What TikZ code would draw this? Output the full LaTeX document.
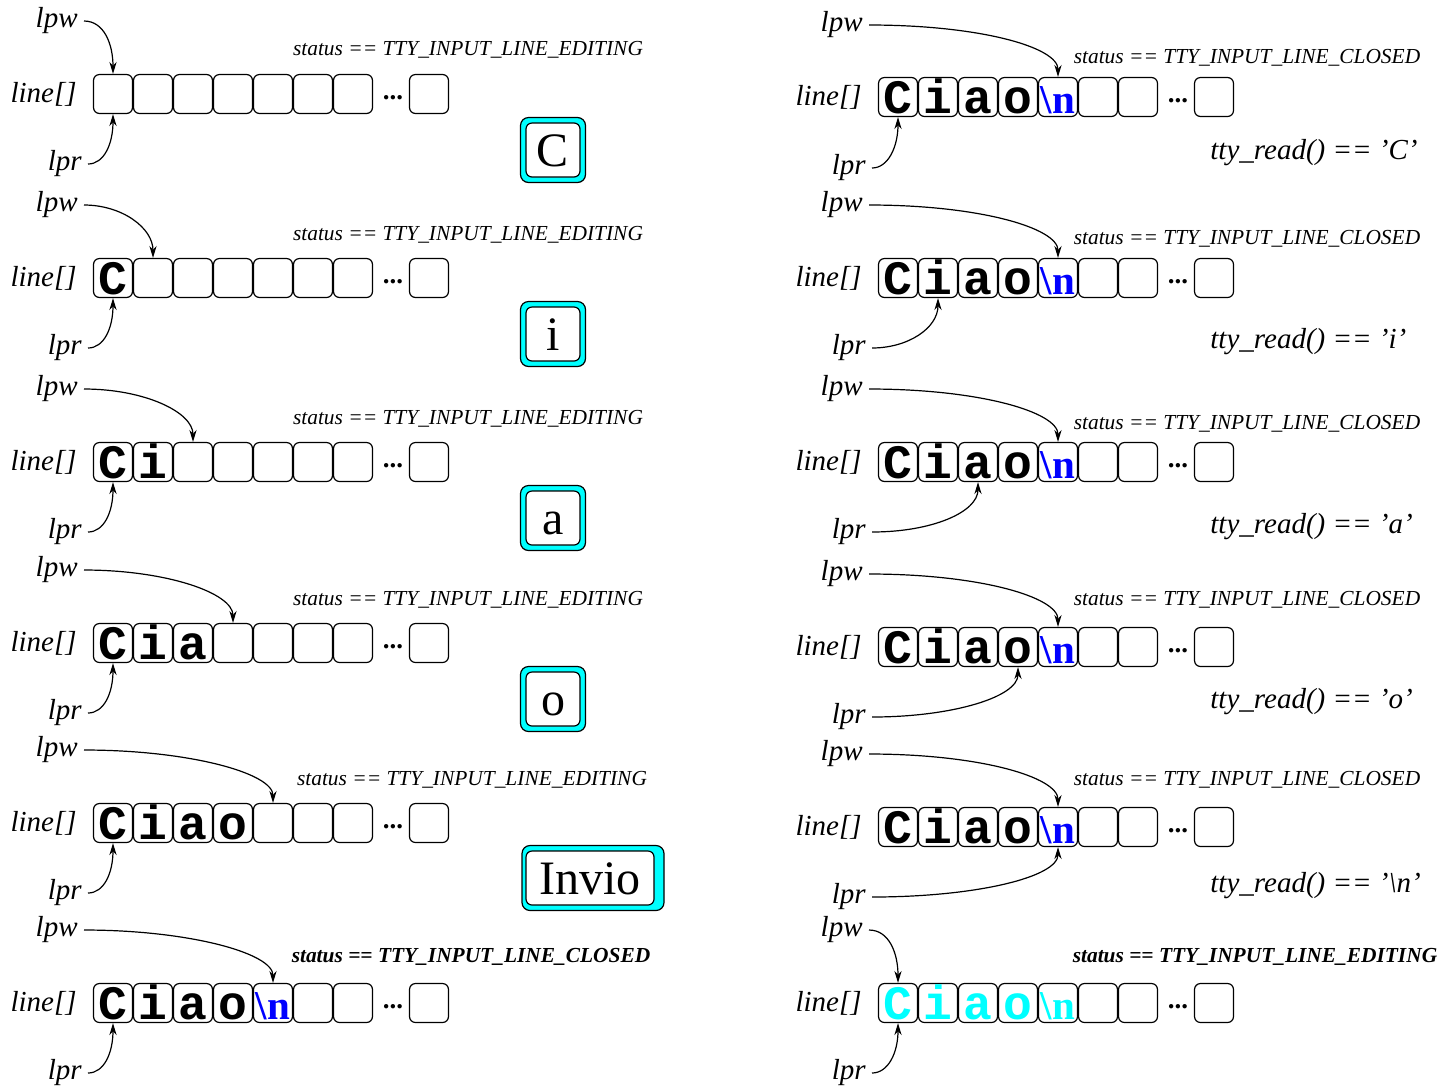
\documentclass[tikz,border=0pt]{standalone}
\usepackage{fontspec}
\setmainfont{Liberation Serif}
\setmonofont{Liberation Mono}
\usetikzlibrary{arrows.meta}
\definecolor{keycyan}{RGB}{0,255,255}

% the newline character of the line buffer
\newcommand{\nlch}[1][blue]{{\rmfamily\bfseries\fontsize{20.5}{20}\selectfont\color{#1}\textbackslash n}}
\newcommand{\cy}[1]{\textcolor{keycyan}{#1}}
% one row of the line buffer: name, x of first cell, y, contents of the first seven cells
\newcommand{\cellrow}[4]{%
  \foreach \ch [count=\i] in {#4} {
    \node[cell] (#1-\i) at ({#2+40*(\i-1)},#3) {\ch};
  }
  \node[dots] (#1-d) at (#2+280,#3+4) {...};
  \node[cell] (#1-n) at (#2+316,#3) {};
}

\tikzset{
  cell/.style={draw, line width=0.6pt, rounded corners=3pt, minimum width=19.5pt,
    minimum height=19.5pt, inner sep=0pt, text height=16pt, text depth=0pt,
    font=\ttfamily\bfseries\fontsize{24}{24}\selectfont},
  dots/.style={inner sep=0pt, font=\bfseries\fontsize{13.5}{14}\selectfont},
  lbl/.style={inner sep=3pt, font=\itshape\fontsize{14.5}{16}\selectfont},
  status/.style={inner sep=0pt, font=\itshape\fontsize{10.7}{12}\selectfont},
  statusb/.style={inner sep=0pt, font=\bfseries\itshape\fontsize{10.7}{12}\selectfont},
  ttyr/.style={inner sep=0pt, font=\itshape\fontsize{14.5}{16}\selectfont},
  keyout/.style={draw, fill=keycyan, line width=0.6pt, rounded corners=4pt,
    minimum width=32.5pt, minimum height=32.5pt, inner sep=0pt},
  key/.style={draw, fill=white, line width=0.6pt, rounded corners=3pt,
    minimum width=27pt, minimum height=27pt, inner sep=0pt, text height=16pt,
    text depth=0pt, font=\fontsize{24}{24}\selectfont},
  ptr/.style={-{Stealth[length=6pt,width=3.6pt]}, line width=0.6pt},
}

\begin{document}
\begin{tikzpicture}[x=0.5pt,y=-0.5pt]
\useasboundingbox (0,0) rectangle (1455,1089);

% left column: typing
\cellrow{la}{113}{94}{{},{},{},{},{},{},{}}
\node[lbl, anchor=east] (la-line) at (83,94) {line[]};
\node[lbl, anchor=east] (la-w) at (84,21) {lpw};
\node[lbl, anchor=east] (la-r) at (88,164) {lpr};
\node[status] (la-s) at (468,50) {status == TTY\_INPUT\_LINE\_EDITING};
\node[keyout] (ka-o) at (553,150) {};
\node[key] (ka) at (553,150) {C};
\draw[ptr] (la-w.east) to[out=0,in=90,out distance=10pt,in distance=15pt] (la-1.north);
\draw[ptr] (la-r.east) to[out=0,in=-90,out distance=8pt,in distance=15pt] (la-1.south);

\cellrow{lb}{113}{278}{C,{},{},{},{},{},{}}
\node[lbl, anchor=east] (lb-line) at (83,278) {line[]};
\node[lbl, anchor=east] (lb-w) at (84,205) {lpw};
\node[lbl, anchor=east] (lb-r) at (88,348) {lpr};
\node[status] (lb-s) at (468,235) {status == TTY\_INPUT\_LINE\_EDITING};
\node[keyout] (kb-o) at (553,334) {};
\node[key] (kb) at (553,334) {i};
\draw[ptr] (lb-w.east) to[out=0,in=90,out distance=19pt,in distance=15pt] (lb-2.north);
\draw[ptr] (lb-r.east) to[out=0,in=-90,out distance=8pt,in distance=15pt] (lb-1.south);

\cellrow{lc}{113}{462}{C,i,{},{},{},{},{}}
\node[lbl, anchor=east] (lc-line) at (83,462) {line[]};
\node[lbl, anchor=east] (lc-w) at (84,389) {lpw};
\node[lbl, anchor=east] (lc-r) at (88,532) {lpr};
\node[status] (lc-s) at (468,419) {status == TTY\_INPUT\_LINE\_EDITING};
\node[keyout] (kc-o) at (553,518) {};
\node[key] (kc) at (553,518) {a};
\draw[ptr] (lc-w.east) to[out=0,in=90,out distance=30pt,in distance=15pt] (lc-3.north);
\draw[ptr] (lc-r.east) to[out=0,in=-90,out distance=8pt,in distance=15pt] (lc-1.south);

\cellrow{ld}{113}{643}{C,i,a,{},{},{},{}}
\node[lbl, anchor=east] (ld-line) at (83,643) {line[]};
\node[lbl, anchor=east] (ld-w) at (84,570) {lpw};
\node[lbl, anchor=east] (ld-r) at (88,713) {lpr};
\node[status] (ld-s) at (468,600) {status == TTY\_INPUT\_LINE\_EDITING};
\node[keyout] (kd-o) at (553,699) {};
\node[key] (kd) at (553,699) {o};
\draw[ptr] (ld-w.east) to[out=0,in=90,out distance=41pt,in distance=15pt] (ld-4.north);
\draw[ptr] (ld-r.east) to[out=0,in=-90,out distance=8pt,in distance=15pt] (ld-1.south);

\cellrow{le}{113}{823}{C,i,a,o,{},{},{}}
\node[lbl, anchor=east] (le-line) at (83,823) {line[]};
\node[lbl, anchor=east] (le-w) at (84,750) {lpw};
\node[lbl, anchor=east] (le-r) at (88,893) {lpr};
\node[status] (le-s) at (472,780) {status == TTY\_INPUT\_LINE\_EDITING};
\node[keyout, minimum width=71pt] (ke-o) at (593,878) {};
\node[key, minimum width=64pt] (ke) at (590,878) {Invio};
\draw[ptr] (le-w.east) to[out=0,in=90,out distance=52pt,in distance=15pt] (le-5.north);
\draw[ptr] (le-r.east) to[out=0,in=-90,out distance=8pt,in distance=15pt] (le-1.south);

\cellrow{lf}{113}{1003}{C,i,a,o,\nlch,{},{}}
\node[lbl, anchor=east] (lf-line) at (83,1003) {line[]};
\node[lbl, anchor=east] (lf-w) at (84,930) {lpw};
\node[lbl, anchor=east] (lf-r) at (88,1073) {lpr};
\node[statusb] (lf-s) at (471,957) {status == TTY\_INPUT\_LINE\_CLOSED};
\draw[ptr] (lf-w.east) to[out=0,in=90,out distance=52pt,in distance=15pt] (lf-5.north);
\draw[ptr] (lf-r.east) to[out=0,in=-90,out distance=8pt,in distance=15pt] (lf-1.south);

% right column: reading
\cellrow{ra}{898}{97}{C,i,a,o,\nlch,{},{}}
\node[lbl, anchor=east] (ra-line) at (868,97) {line[]};
\node[lbl, anchor=east] (ra-w) at (869,25) {lpw};
\node[lbl, anchor=east] (ra-r) at (872,168) {lpr};
\node[status] (ra-s) at (1247,58) {status == TTY\_INPUT\_LINE\_CLOSED};
\node[ttyr, anchor=west] (ra-t) at (1210,153) {tty\_read() == 'C'};
\draw[ptr] (ra-w.east) to[out=0,in=90,out distance=55pt,in distance=15pt] (ra-5.north);
\draw[ptr] (ra-r.east) to[out=0,in=-90,out distance=8pt,in distance=15pt] (ra-1.south);

\cellrow{rb}{898}{278}{C,i,a,o,\nlch,{},{}}
\node[lbl, anchor=east] (rb-line) at (868,278) {line[]};
\node[lbl, anchor=east] (rb-w) at (869,205) {lpw};
\node[lbl, anchor=east] (rb-r) at (872,348) {lpr};
\node[status] (rb-s) at (1247,239) {status == TTY\_INPUT\_LINE\_CLOSED};
\node[ttyr, anchor=west] (rb-t) at (1210,342) {tty\_read() == 'i'};
\draw[ptr] (rb-w.east) to[out=0,in=90,out distance=55pt,in distance=15pt] (rb-5.north);
\draw[ptr] (rb-r.east) to[out=0,in=-90,out distance=18pt,in distance=15pt] (rb-2.south);

\cellrow{rc}{898}{462}{C,i,a,o,\nlch,{},{}}
\node[lbl, anchor=east] (rc-line) at (868,462) {line[]};
\node[lbl, anchor=east] (rc-w) at (869,389) {lpw};
\node[lbl, anchor=east] (rc-r) at (872,532) {lpr};
\node[status] (rc-s) at (1247,424) {status == TTY\_INPUT\_LINE\_CLOSED};
\node[ttyr, anchor=west] (rc-t) at (1210,527) {tty\_read() == 'a'};
\draw[ptr] (rc-w.east) to[out=0,in=90,out distance=55pt,in distance=15pt] (rc-5.north);
\draw[ptr] (rc-r.east) to[out=0,in=-90,out distance=30pt,in distance=15pt] (rc-3.south);

\cellrow{rd}{898}{647}{C,i,a,o,\nlch,{},{}}
\node[lbl, anchor=east] (rd-line) at (868,647) {line[]};
\node[lbl, anchor=east] (rd-w) at (869,574) {lpw};
\node[lbl, anchor=east] (rd-r) at (872,717) {lpr};
\node[status] (rd-s) at (1247,600) {status == TTY\_INPUT\_LINE\_CLOSED};
\node[ttyr, anchor=west] (rd-t) at (1210,702) {tty\_read() == 'o'};
\draw[ptr] (rd-w.east) to[out=0,in=90,out distance=55pt,in distance=15pt] (rd-5.north);
\draw[ptr] (rd-r.east) to[out=0,in=-90,out distance=40pt,in distance=15pt] (rd-4.south);

\cellrow{re}{898}{827}{C,i,a,o,\nlch,{},{}}
\node[lbl, anchor=east] (re-line) at (868,827) {line[]};
\node[lbl, anchor=east] (re-w) at (869,754) {lpw};
\node[lbl, anchor=east] (re-r) at (872,897) {lpr};
\node[status] (re-s) at (1247,780) {status == TTY\_INPUT\_LINE\_CLOSED};
\node[ttyr, anchor=west] (re-t) at (1210,886) {tty\_read() == '\textbackslash n'};
\draw[ptr] (re-w.east) to[out=0,in=90,out distance=55pt,in distance=15pt] (re-5.north);
\draw[ptr] (re-r.east) to[out=0,in=-90,out distance=52pt,in distance=15pt] (re-5.south);

\cellrow{rf}{898}{1003}{\cy{C},\cy{i},\cy{a},\cy{o},\nlch[keycyan],{},{}}
\node[lbl, anchor=east] (rf-line) at (868,1003) {line[]};
\node[lbl, anchor=east] (rf-w) at (869,930) {lpw};
\node[lbl, anchor=east] (rf-r) at (872,1073) {lpr};
\node[statusb] (rf-s) at (1255,957) {status == TTY\_INPUT\_LINE\_EDITING};
\draw[ptr] (rf-w.east) to[out=0,in=90,out distance=10pt,in distance=15pt] (rf-1.north);
\draw[ptr] (rf-r.east) to[out=0,in=-90,out distance=8pt,in distance=15pt] (rf-1.south);

\end{tikzpicture}
\end{document}
